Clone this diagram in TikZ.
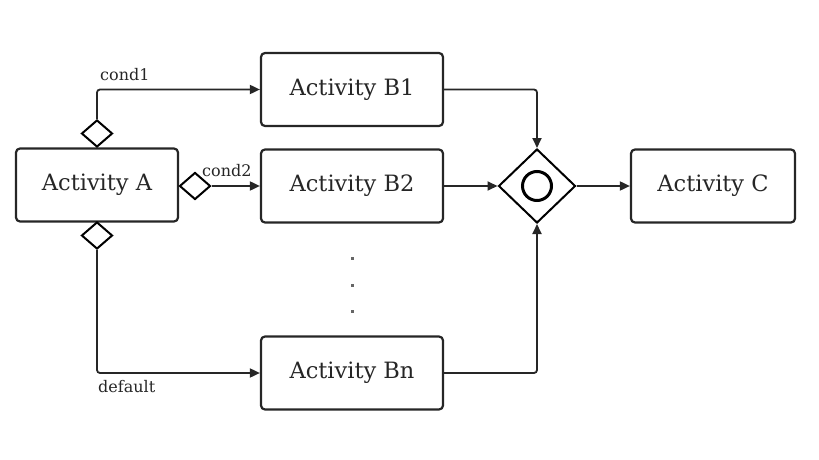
\documentclass[tikz,border=0pt]{standalone}
\usepackage{fontspec}
\setmainfont{DejaVu Serif}
\usetikzlibrary{arrows.meta,shapes.geometric}
\begin{document}
\begin{tikzpicture}[x=1pt,y=-1pt,
  actbox/.style={draw=black!85,line width=2.2pt,rounded corners=4pt,minimum width=182pt,minimum height=73pt,inner sep=0pt,font=\fontsize{22.5}{26}\selectfont,text=black!85},
  smalldia/.style={diamond,draw=black,line width=2pt,fill=white,minimum width=31pt,minimum height=27pt,inner sep=0pt},
  conn/.style={draw=black!85,line width=1.8pt,rounded corners=3pt},
  arr/.style={conn,-{Triangle[length=10pt,width=9pt]}},
  lbl/.style={font=\fontsize{16}{18}\selectfont,text=black!85,inner sep=0pt,anchor=west},
  dotmark/.style={fill=black!60,minimum size=3pt,inner sep=0pt}
]
\useasboundingbox (0,0) rectangle (819,460);
\node[actbox,minimum width=162pt] (A) at (97,185) {Activity A};
\node[actbox] (B1) at (352,89.5) {Activity B1};
\node[actbox] (B2) at (352,186) {Activity B2};
\node[actbox] (Bn) at (352,373) {Activity Bn};
\node[actbox,minimum width=164pt] (C) at (713,186) {Activity C};
\node[diamond,aspect=1,draw=black,line width=2pt,minimum width=77pt,minimum height=74pt,inner sep=0pt] (gw) at (537,186) {};
\node[circle,draw=black,line width=3pt,minimum size=29pt,inner sep=0pt] (gwc) at (gw.center) {};
\node[smalldia] (dtop) at (97,133.5) {};
\node[smalldia] (dright) at (195,186) {};
\node[smalldia] (dbot) at (97,235.5) {};
\draw[arr] (dtop.north) |- (B1.west);
\draw[arr] (dright.east) -- (B2.west);
\draw[arr] (dbot.south) |- (Bn.west);
\draw[arr] (B1.east) -| (gw.north);
\draw[arr] (B2.east) -- (gw.west);
\draw[arr] (Bn.east) -| (gw.south);
\draw[arr] (gw.east) -- (C.west);
\node[lbl] (l1) at (100,75) {cond1};
\node[lbl] (l2) at (202,171) {cond2};
\node[lbl] (l3) at (98,387) {default};
\node[dotmark] (d1) at (352,258) {};
\node[dotmark] (d2) at (352,285) {};
\node[dotmark] (d3) at (352,311) {};
\end{tikzpicture}
\end{document}
